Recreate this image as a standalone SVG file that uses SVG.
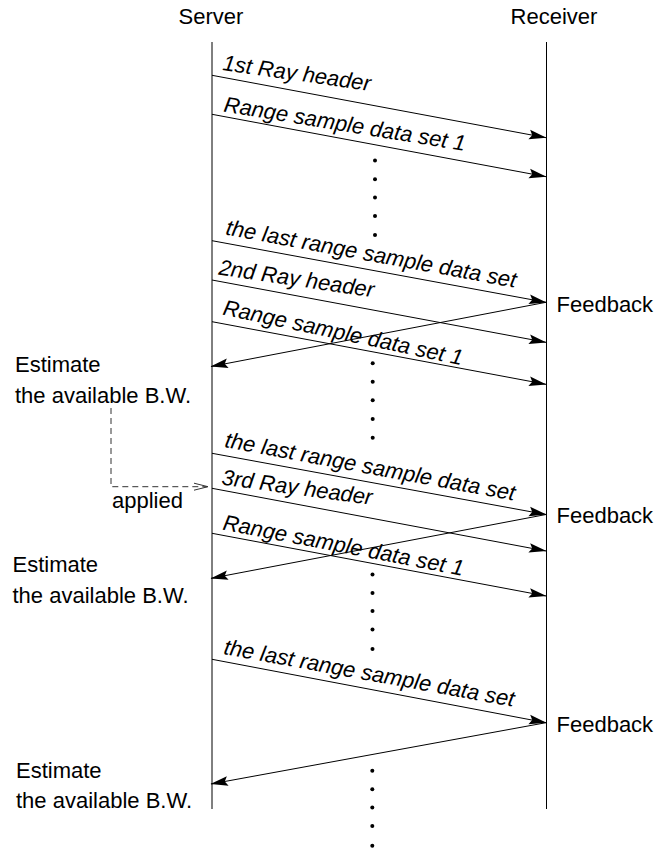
<svg xmlns="http://www.w3.org/2000/svg" width="671" height="853" viewBox="0 0 671 853">
  <style>
    .bg { fill: #ffffff; }
    .life { stroke: #000; stroke-width: 1; fill: none; }
    .msg { stroke: #000; stroke-width: 1; fill: none; marker-end: url(#head); }
    .dash { stroke: #333; stroke-width: 1; fill: none; stroke-dasharray: 6 4; }
    .open { stroke: #333; stroke-width: 1; fill: none; }
    .t { font-family: "Liberation Sans", Arial, Helvetica, sans-serif; font-size: 22px; fill: #000; }
    .lbl { font-family: "Liberation Sans", Arial, Helvetica, sans-serif; font-size: 22px; font-style: italic; fill: #000; }
    .dot { fill: #000; }
  </style>
  <defs>
    <marker id="head" markerUnits="userSpaceOnUse" markerWidth="22" markerHeight="12" viewBox="-20 -6 22 12" refX="0" refY="0" orient="auto" overflow="visible">
      <path d="M0.5,0 L-17,-4.8 L-14,0 L-17,4.8 Z" fill="#000"/>
    </marker>
  </defs>
  <rect class="bg" x="0" y="0" width="671" height="853"/>

  <!-- Lifelines -->
  <g id="server">
    <text class="t" x="211" y="24" text-anchor="middle">Server</text>
    <line class="life" x1="212" y1="42" x2="212" y2="809"/>
  </g>
  <g id="receiver">
    <text class="t" x="554" y="24" text-anchor="middle">Receiver</text>
    <line class="life" x1="546.5" y1="42" x2="546.5" y2="809"/>
  </g>

  <!-- Messages and feedback -->
  <g id="connectors">
    <line class="msg" x1="212" y1="75.3" x2="546" y2="137.7"/>
    <line class="msg" x1="212" y1="114.3" x2="546" y2="176.7"/>
    <line class="msg" x1="212" y1="240.7" x2="546" y2="302.3"/>
    <line class="msg" x1="212" y1="280" x2="546" y2="342.3"/>
    <line class="msg" x1="212" y1="321.7" x2="546" y2="384.3"/>
    <line class="msg" x1="546" y1="302.3" x2="211" y2="366.5"/>

    <line class="msg" x1="212" y1="453.3" x2="546" y2="514.5"/>
    <line class="msg" x1="212" y1="488.3" x2="546" y2="551"/>
    <line class="msg" x1="212" y1="533.3" x2="546" y2="596"/>
    <line class="msg" x1="546" y1="514.5" x2="211" y2="578.3"/>

    <line class="msg" x1="212" y1="659.3" x2="546" y2="722.7"/>
    <line class="msg" x1="546" y1="722.7" x2="211" y2="784"/>

    <!-- estimate applied to the next ray -->
    <polyline class="dash" points="111,408 111,486.7 207,486.7"/>
    <polyline class="open" points="194,483.2 208,486.7 194,490.2"/>
  </g>

  <!-- Message labels -->
  <g id="labels">
    <text class="lbl" x="222" y="70" transform="rotate(8.1 222 70)">1st Ray header</text>
    <text class="lbl" x="223" y="111.5" transform="rotate(9.3 223 111.5)">Range sample data set 1</text>
    <text class="lbl" x="225" y="234.5" transform="rotate(10.4 225 234.5)">the last range sample data set</text>
    <text class="lbl" x="218" y="274.5" transform="rotate(8.4 218 274.5)">2nd Ray header</text>
    <text class="lbl" x="222" y="314.5" transform="rotate(12 222 314.5)">Range sample data set 1</text>
    <text class="lbl" x="224" y="447" transform="rotate(10.5 224 447)">the last range sample data set</text>
    <text class="lbl" x="221" y="484.5" transform="rotate(7.7 221 484.5)">3rd Ray header</text>
    <text class="lbl" x="222" y="529.5" transform="rotate(10.9 222 529.5)">Range sample data set 1</text>
    <text class="lbl" x="223" y="654" transform="rotate(10.3 223 654)">the last range sample data set</text>
  </g>

  <!-- Receiver feedback notes -->
  <g id="feedback-1"><text class="t" x="556.5" y="312.3">Feedback</text></g>
  <g id="feedback-2"><text class="t" x="556.5" y="523.3">Feedback</text></g>
  <g id="feedback-3"><text class="t" x="556.5" y="732.3">Feedback</text></g>

  <!-- Server estimate notes -->
  <g id="estimate-1">
    <text class="t" x="15" y="371.5">Estimate</text>
    <text class="t" x="15" y="403">the available B.W.</text>
  </g>
  <g id="applied">
    <text class="t" x="112" y="508">applied</text>
  </g>
  <g id="estimate-2">
    <text class="t" x="12.5" y="571.5">Estimate</text>
    <text class="t" x="12.5" y="602.7">the available B.W.</text>
  </g>
  <g id="estimate-3">
    <text class="t" x="16" y="778.3">Estimate</text>
    <text class="t" x="16" y="808">the available B.W.</text>
  </g>

  <!-- Continuation dots -->
  <g id="ellipsis-1">
    <circle class="dot" cx="375" cy="160.5" r="2"/>
    <circle class="dot" cx="375" cy="179.3" r="2"/>
    <circle class="dot" cx="375" cy="197.5" r="2"/>
    <circle class="dot" cx="375" cy="216" r="2"/>
    <circle class="dot" cx="375" cy="235" r="2"/>
  </g>
  <g id="ellipsis-2">
    <circle class="dot" cx="372.7" cy="363.3" r="2"/>
    <circle class="dot" cx="372.7" cy="381.7" r="2"/>
    <circle class="dot" cx="372.7" cy="400.3" r="2"/>
    <circle class="dot" cx="372.7" cy="419" r="2"/>
    <circle class="dot" cx="372.7" cy="437.7" r="2"/>
  </g>
  <g id="ellipsis-3">
    <circle class="dot" cx="372.5" cy="574.5" r="2"/>
    <circle class="dot" cx="372.5" cy="593" r="2"/>
    <circle class="dot" cx="372.5" cy="611" r="2"/>
    <circle class="dot" cx="372.5" cy="629.5" r="2"/>
    <circle class="dot" cx="372.5" cy="649" r="2"/>
  </g>
  <g id="ellipsis-4">
    <circle class="dot" cx="372.3" cy="770.7" r="2"/>
    <circle class="dot" cx="372.3" cy="789.3" r="2"/>
    <circle class="dot" cx="372.3" cy="807.5" r="2"/>
    <circle class="dot" cx="372.3" cy="826" r="2"/>
    <circle class="dot" cx="372.3" cy="845.7" r="2"/>
  </g>
</svg>
